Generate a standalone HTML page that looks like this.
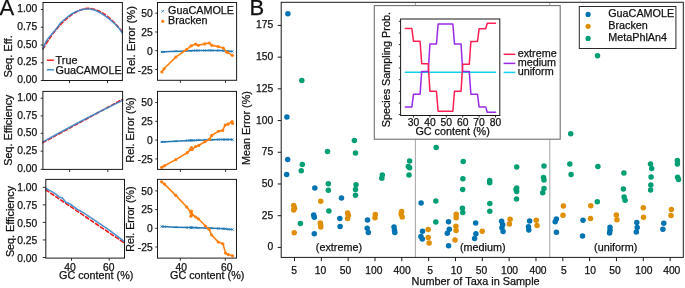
<!DOCTYPE html><html><head><meta charset="utf-8"><style>html,body{margin:0;padding:0;background:#fff;width:685px;height:288px;overflow:hidden}svg{display:block;will-change:transform}text{font-family:"Liberation Sans",sans-serif;stroke:#111;stroke-width:0.25px}</style></head><body>
<svg width="685" height="288" viewBox="0 0 685 288">
<rect width="685" height="288" fill="#fff"/>
<text x="-0.40" y="15.30" font-size="22" text-anchor="start" fill="#111">A</text>
<polyline points="43.00,48.90 44.35,46.65 45.69,44.45 47.04,42.32 48.38,40.26 49.73,38.25 51.07,36.32 52.42,34.45 53.77,32.64 55.11,30.90 56.46,29.23 57.80,27.63 59.15,26.10 60.49,24.64 61.84,23.25 63.19,21.92 64.53,20.67 65.88,19.49 67.22,18.38 68.57,17.28 69.92,16.17 71.26,15.13 72.61,14.16 73.95,13.27 75.30,12.45 76.64,11.70 77.99,11.02 79.34,10.42 80.68,9.89 82.03,9.44 83.37,9.05 84.72,8.74 86.06,8.51 87.41,8.34 88.76,8.33 90.10,8.46 91.45,8.66 92.79,8.93 94.14,9.27 95.48,9.68 96.83,10.17 98.18,10.72 99.52,11.34 100.87,12.03 102.21,12.79 103.56,13.62 104.91,14.51 106.25,15.47 107.60,16.50 108.94,17.59 110.29,18.74 111.63,19.96 112.98,21.24 114.33,22.59 115.67,23.99 117.02,25.45 118.36,26.97 119.71,28.55 121.05,30.19 122.40,31.88" fill="none" stroke="#f01818" stroke-width="1.6" stroke-linejoin="round" stroke-linecap="round" stroke-dasharray="3.6,2.4" stroke-linecap="butt"/>
<polyline points="43.00,48.70 45.70,42.00 48.50,38.00 51.50,34.40 54.50,31.00 57.20,27.70 59.50,24.20 61.00,22.50 64.50,19.50 68.60,16.20 72.50,13.50 76.30,11.50 80.00,10.30 83.00,9.40 86.00,9.00 89.40,9.00 92.50,9.50 95.60,10.60 99.00,12.00 101.90,13.80 105.00,15.80 108.10,18.00 111.50,20.80 114.40,23.40 117.00,26.00 119.10,28.60 122.40,33.00" fill="none" stroke="#3a86c8" stroke-width="1.6" stroke-linejoin="round" stroke-linecap="round" stroke-opacity="0.9"/>
<rect x="43.00" y="2.50" width="79.40" height="78.00" fill="none" stroke="#1a1a1a" stroke-width="1.0"/>
<line x1="40.80" y1="9.50" x2="43.00" y2="9.50" stroke="#1a1a1a" stroke-width="0.9"/>
<text x="37.30" y="12.15" font-size="10.3" text-anchor="end" fill="#111">1.00</text>
<line x1="40.80" y1="27.25" x2="43.00" y2="27.25" stroke="#1a1a1a" stroke-width="0.9"/>
<text x="37.30" y="29.90" font-size="10.3" text-anchor="end" fill="#111">0.75</text>
<line x1="40.80" y1="45.00" x2="43.00" y2="45.00" stroke="#1a1a1a" stroke-width="0.9"/>
<text x="37.30" y="47.65" font-size="10.3" text-anchor="end" fill="#111">0.50</text>
<line x1="40.80" y1="62.75" x2="43.00" y2="62.75" stroke="#1a1a1a" stroke-width="0.9"/>
<text x="37.30" y="65.40" font-size="10.3" text-anchor="end" fill="#111">0.25</text>
<line x1="40.80" y1="80.50" x2="43.00" y2="80.50" stroke="#1a1a1a" stroke-width="0.9"/>
<text x="37.30" y="83.15" font-size="10.3" text-anchor="end" fill="#111">0.00</text>
<line x1="69.50" y1="80.50" x2="69.50" y2="83.10" stroke="#1a1a1a" stroke-width="0.9"/>
<line x1="107.50" y1="80.50" x2="107.50" y2="83.10" stroke="#1a1a1a" stroke-width="0.9"/>
<line x1="46.80" y1="60.20" x2="53.90" y2="60.20" stroke="#f01818" stroke-width="1.4"/>
<line x1="46.80" y1="69.80" x2="53.90" y2="69.80" stroke="#3a86c8" stroke-width="1.4"/>
<text x="55.60" y="63.80" font-size="10.8" text-anchor="start" fill="#111">True</text>
<text x="55.60" y="73.80" font-size="10.8" text-anchor="start" fill="#111">GuaCAMOLE</text>
<text x="11.60" y="56.40" font-size="11.1" text-anchor="middle" fill="#111" transform="rotate(-90 11.60 56.40)">Seq. Eff.</text>
<polyline points="42.90,142.60 122.60,99.30" fill="none" stroke="#f01818" stroke-width="1.6" stroke-linejoin="round" stroke-linecap="round" stroke-dasharray="3.6,2.4" stroke-linecap="butt"/>
<polyline points="42.90,141.90 60.00,132.50 80.00,121.70 100.00,111.50 122.60,100.40" fill="none" stroke="#3a86c8" stroke-width="1.6" stroke-linejoin="round" stroke-linecap="round" stroke-opacity="0.9"/>
<rect x="42.90" y="91.40" width="79.70" height="78.00" fill="none" stroke="#1a1a1a" stroke-width="1.0"/>
<line x1="40.70" y1="98.20" x2="42.90" y2="98.20" stroke="#1a1a1a" stroke-width="0.9"/>
<text x="37.30" y="100.85" font-size="10.3" text-anchor="end" fill="#111">1.00</text>
<line x1="40.70" y1="115.90" x2="42.90" y2="115.90" stroke="#1a1a1a" stroke-width="0.9"/>
<text x="37.30" y="118.55" font-size="10.3" text-anchor="end" fill="#111">0.75</text>
<line x1="40.70" y1="133.30" x2="42.90" y2="133.30" stroke="#1a1a1a" stroke-width="0.9"/>
<text x="37.30" y="135.95" font-size="10.3" text-anchor="end" fill="#111">0.50</text>
<line x1="40.70" y1="151.20" x2="42.90" y2="151.20" stroke="#1a1a1a" stroke-width="0.9"/>
<text x="37.30" y="153.85" font-size="10.3" text-anchor="end" fill="#111">0.25</text>
<line x1="40.70" y1="169.40" x2="42.90" y2="169.40" stroke="#1a1a1a" stroke-width="0.9"/>
<text x="37.30" y="172.05" font-size="10.3" text-anchor="end" fill="#111">0.00</text>
<line x1="69.60" y1="169.40" x2="69.60" y2="172.00" stroke="#1a1a1a" stroke-width="0.9"/>
<line x1="107.80" y1="169.40" x2="107.80" y2="172.00" stroke="#1a1a1a" stroke-width="0.9"/>
<text x="11.80" y="130.15" font-size="10.8" text-anchor="middle" fill="#111" transform="rotate(-90 11.80 130.15)">Seq. Efficiency</text>
<polyline points="45.80,189.90 124.40,243.00" fill="none" stroke="#f01818" stroke-width="1.6" stroke-linejoin="round" stroke-linecap="round" stroke-dasharray="3.6,2.4" stroke-linecap="butt"/>
<polyline points="45.80,188.30 49.50,190.40 53.30,192.40 56.10,194.40 58.90,196.90 62.40,198.00 65.80,202.20 67.90,202.90 70.70,204.50 74.00,206.90 77.00,209.10 82.50,212.20 90.00,217.20 100.00,223.90 110.00,230.70 124.40,241.70" fill="none" stroke="#3a86c8" stroke-width="1.6" stroke-linejoin="round" stroke-linecap="round" stroke-opacity="0.9"/>
<rect x="45.80" y="179.40" width="78.70" height="78.70" fill="none" stroke="#1a1a1a" stroke-width="1.0"/>
<line x1="42.80" y1="187.30" x2="45.80" y2="187.30" stroke="#1a1a1a" stroke-width="0.9"/>
<text x="37.30" y="191.40" font-size="10.3" text-anchor="end" fill="#111">1.00</text>
<line x1="42.80" y1="204.85" x2="45.80" y2="204.85" stroke="#1a1a1a" stroke-width="0.9"/>
<text x="37.30" y="208.95" font-size="10.3" text-anchor="end" fill="#111">0.75</text>
<line x1="42.80" y1="222.40" x2="45.80" y2="222.40" stroke="#1a1a1a" stroke-width="0.9"/>
<text x="37.30" y="226.50" font-size="10.3" text-anchor="end" fill="#111">0.50</text>
<line x1="42.80" y1="239.95" x2="45.80" y2="239.95" stroke="#1a1a1a" stroke-width="0.9"/>
<text x="37.30" y="244.05" font-size="10.3" text-anchor="end" fill="#111">0.25</text>
<line x1="42.80" y1="257.50" x2="45.80" y2="257.50" stroke="#1a1a1a" stroke-width="0.9"/>
<text x="37.30" y="261.60" font-size="10.3" text-anchor="end" fill="#111">0.00</text>
<line x1="71.50" y1="258.10" x2="71.50" y2="260.70" stroke="#1a1a1a" stroke-width="0.9"/>
<text x="70.00" y="270.80" font-size="10.3" text-anchor="middle" fill="#111">40</text>
<line x1="109.20" y1="258.10" x2="109.20" y2="260.70" stroke="#1a1a1a" stroke-width="0.9"/>
<text x="108.80" y="270.80" font-size="10.3" text-anchor="middle" fill="#111">60</text>
<text x="14.40" y="221.50" font-size="10.8" text-anchor="middle" fill="#111" transform="rotate(-90 14.40 221.50)">Seq. Efficiency</text>
<text x="96.20" y="278.80" font-size="10.8" text-anchor="middle" fill="#111">GC content (%)</text>
<polyline points="161.50,51.90 170.00,51.50 180.00,51.20 190.00,50.80 200.00,50.50 210.00,50.40 220.00,50.60 232.30,51.40" fill="none" stroke="#1f77b4" stroke-width="1.5" stroke-linejoin="round" stroke-linecap="round"/>
<path d="M160.80,50.80L163.00,53.00M160.80,53.00L163.00,50.80" stroke="#1f77b4" stroke-width="0.8"/>
<path d="M162.90,50.80L165.10,53.00M162.90,53.00L165.10,50.80" stroke="#1f77b4" stroke-width="0.8"/>
<path d="M174.70,50.10L176.90,52.30M174.70,52.30L176.90,50.10" stroke="#1f77b4" stroke-width="0.8"/>
<path d="M185.50,49.70L187.70,51.90M185.50,51.90L187.70,49.70" stroke="#1f77b4" stroke-width="0.8"/>
<path d="M190.00,49.70L192.20,51.90M190.00,51.90L192.20,49.70" stroke="#1f77b4" stroke-width="0.8"/>
<path d="M194.50,49.40L196.70,51.60M194.50,51.60L196.70,49.40" stroke="#1f77b4" stroke-width="0.8"/>
<path d="M197.20,49.40L199.40,51.60M197.20,51.60L199.40,49.40" stroke="#1f77b4" stroke-width="0.8"/>
<path d="M203.50,49.40L205.70,51.60M203.50,51.60L205.70,49.40" stroke="#1f77b4" stroke-width="0.8"/>
<path d="M208.10,49.30L210.30,51.50M208.10,51.50L210.30,49.30" stroke="#1f77b4" stroke-width="0.8"/>
<path d="M210.80,49.30L213.00,51.50M210.80,51.50L213.00,49.30" stroke="#1f77b4" stroke-width="0.8"/>
<path d="M217.10,49.50L219.30,51.70M217.10,51.70L219.30,49.50" stroke="#1f77b4" stroke-width="0.8"/>
<path d="M222.10,49.50L224.30,51.70M222.10,51.70L224.30,49.50" stroke="#1f77b4" stroke-width="0.8"/>
<path d="M225.70,50.30L227.90,52.50M225.70,52.50L227.90,50.30" stroke="#1f77b4" stroke-width="0.8"/>
<path d="M226.60,50.30L228.80,52.50M226.60,52.50L228.80,50.30" stroke="#1f77b4" stroke-width="0.8"/>
<path d="M231.20,50.30L233.40,52.50M231.20,52.50L233.40,50.30" stroke="#1f77b4" stroke-width="0.8"/>
<polyline points="161.90,71.90 164.00,68.80 175.80,57.10 186.60,49.50 191.10,45.90 195.60,44.10 198.30,45.30 204.60,43.90 209.20,43.00 211.90,45.30 218.20,46.60 223.20,48.00 226.80,52.00 227.70,52.60 232.30,55.30" fill="none" stroke="#ff7f0e" stroke-width="1.6" stroke-linejoin="round" stroke-linecap="round"/>
<circle cx="161.90" cy="71.90" r="1.6" fill="#ff7f0e"/>
<circle cx="164.00" cy="68.80" r="1.6" fill="#ff7f0e"/>
<circle cx="175.80" cy="57.10" r="1.6" fill="#ff7f0e"/>
<circle cx="186.60" cy="49.50" r="1.6" fill="#ff7f0e"/>
<circle cx="191.10" cy="45.90" r="1.6" fill="#ff7f0e"/>
<circle cx="195.60" cy="44.10" r="1.6" fill="#ff7f0e"/>
<circle cx="198.30" cy="45.30" r="1.6" fill="#ff7f0e"/>
<circle cx="204.60" cy="43.90" r="1.6" fill="#ff7f0e"/>
<circle cx="209.20" cy="43.00" r="1.6" fill="#ff7f0e"/>
<circle cx="211.90" cy="45.30" r="1.6" fill="#ff7f0e"/>
<circle cx="218.20" cy="46.60" r="1.6" fill="#ff7f0e"/>
<circle cx="223.20" cy="48.00" r="1.6" fill="#ff7f0e"/>
<circle cx="226.80" cy="52.00" r="1.6" fill="#ff7f0e"/>
<circle cx="227.70" cy="52.60" r="1.6" fill="#ff7f0e"/>
<circle cx="232.30" cy="55.30" r="1.6" fill="#ff7f0e"/>
<rect x="157.50" y="2.50" width="79.10" height="77.80" fill="none" stroke="#1a1a1a" stroke-width="1.0"/>
<line x1="155.30" y1="13.20" x2="157.50" y2="13.20" stroke="#1a1a1a" stroke-width="0.9"/>
<text x="152.70" y="17.20" font-size="10.3" text-anchor="end" fill="#111">50</text>
<line x1="155.30" y1="31.97" x2="157.50" y2="31.97" stroke="#1a1a1a" stroke-width="0.9"/>
<text x="152.70" y="35.97" font-size="10.3" text-anchor="end" fill="#111">25</text>
<line x1="155.30" y1="50.74" x2="157.50" y2="50.74" stroke="#1a1a1a" stroke-width="0.9"/>
<text x="152.70" y="54.74" font-size="10.3" text-anchor="end" fill="#111">0</text>
<line x1="155.30" y1="69.51" x2="157.50" y2="69.51" stroke="#1a1a1a" stroke-width="0.9"/>
<text x="152.70" y="73.51" font-size="10.3" text-anchor="end" fill="#111">-25</text>
<line x1="180.40" y1="80.30" x2="180.40" y2="82.90" stroke="#1a1a1a" stroke-width="0.9"/>
<line x1="225.50" y1="80.30" x2="225.50" y2="82.90" stroke="#1a1a1a" stroke-width="0.9"/>
<text x="134.60" y="40.10" font-size="11.15" text-anchor="middle" fill="#111" transform="rotate(-90 134.60 40.10)">Rel. Error (%)</text>
<path d="M161.50,10.10L163.90,12.50M161.50,12.50L163.90,10.10" stroke="#1f77b4" stroke-width="0.8"/>
<circle cx="162.70" cy="21.30" r="1.6" fill="#ff7f0e"/>
<text x="168.00" y="14.00" font-size="10.8" text-anchor="start" fill="#111">GuaCAMOLE</text>
<text x="168.00" y="24.00" font-size="10.8" text-anchor="start" fill="#111">Bracken</text>
<polyline points="161.50,141.90 175.00,141.20 190.00,140.40 205.00,139.90 220.00,139.60 232.00,139.60" fill="none" stroke="#1f77b4" stroke-width="1.5" stroke-linejoin="round" stroke-linecap="round"/>
<path d="M160.60,140.80L162.80,143.00M160.60,143.00L162.80,140.80" stroke="#1f77b4" stroke-width="0.8"/>
<path d="M163.30,140.80L165.50,143.00M163.30,143.00L165.50,140.80" stroke="#1f77b4" stroke-width="0.8"/>
<path d="M174.70,140.10L176.90,142.30M174.70,142.30L176.90,140.10" stroke="#1f77b4" stroke-width="0.8"/>
<path d="M186.20,139.30L188.40,141.50M186.20,141.50L188.40,139.30" stroke="#1f77b4" stroke-width="0.8"/>
<path d="M189.30,139.30L191.50,141.50M189.30,141.50L191.50,139.30" stroke="#1f77b4" stroke-width="0.8"/>
<path d="M190.40,139.30L192.60,141.50M190.40,141.50L192.60,139.30" stroke="#1f77b4" stroke-width="0.8"/>
<path d="M191.00,139.30L193.20,141.50M191.00,141.50L193.20,139.30" stroke="#1f77b4" stroke-width="0.8"/>
<path d="M194.50,139.30L196.70,141.50M194.50,141.50L196.70,139.30" stroke="#1f77b4" stroke-width="0.8"/>
<path d="M197.65,138.80L199.85,141.00M197.65,141.00L199.85,138.80" stroke="#1f77b4" stroke-width="0.8"/>
<path d="M203.90,138.80L206.10,141.00M203.90,141.00L206.10,138.80" stroke="#1f77b4" stroke-width="0.8"/>
<path d="M208.50,138.80L210.70,141.00M208.50,141.00L210.70,138.80" stroke="#1f77b4" stroke-width="0.8"/>
<path d="M210.60,138.80L212.80,141.00M210.60,141.00L212.80,138.80" stroke="#1f77b4" stroke-width="0.8"/>
<path d="M217.40,138.50L219.60,140.70M217.40,140.70L219.60,138.50" stroke="#1f77b4" stroke-width="0.8"/>
<path d="M221.60,138.50L223.80,140.70M221.60,140.70L223.80,138.50" stroke="#1f77b4" stroke-width="0.8"/>
<path d="M224.10,138.50L226.30,140.70M224.10,140.70L226.30,138.50" stroke="#1f77b4" stroke-width="0.8"/>
<path d="M226.80,138.50L229.00,140.70M226.80,140.70L229.00,138.50" stroke="#1f77b4" stroke-width="0.8"/>
<path d="M231.00,138.50L233.20,140.70M231.00,140.70L233.20,138.50" stroke="#1f77b4" stroke-width="0.8"/>
<path d="M231.40,138.50L233.60,140.70M231.40,140.70L233.60,138.50" stroke="#1f77b4" stroke-width="0.8"/>
<polyline points="161.70,167.30 164.40,165.80 175.80,159.60 187.30,152.70 190.40,149.60 191.50,147.50 192.10,149.60 195.60,146.50 198.75,145.40 205.00,141.70 209.60,139.20 211.70,135.40 218.50,131.25 222.70,130.40 225.20,125.00 227.90,124.20 232.10,121.50 232.50,123.50" fill="none" stroke="#ff7f0e" stroke-width="1.6" stroke-linejoin="round" stroke-linecap="round"/>
<circle cx="161.70" cy="167.30" r="1.6" fill="#ff7f0e"/>
<circle cx="164.40" cy="165.80" r="1.6" fill="#ff7f0e"/>
<circle cx="175.80" cy="159.60" r="1.6" fill="#ff7f0e"/>
<circle cx="187.30" cy="152.70" r="1.6" fill="#ff7f0e"/>
<circle cx="190.40" cy="149.60" r="1.6" fill="#ff7f0e"/>
<circle cx="191.50" cy="147.50" r="1.6" fill="#ff7f0e"/>
<circle cx="192.10" cy="149.60" r="1.6" fill="#ff7f0e"/>
<circle cx="195.60" cy="146.50" r="1.6" fill="#ff7f0e"/>
<circle cx="198.75" cy="145.40" r="1.6" fill="#ff7f0e"/>
<circle cx="205.00" cy="141.70" r="1.6" fill="#ff7f0e"/>
<circle cx="209.60" cy="139.20" r="1.6" fill="#ff7f0e"/>
<circle cx="211.70" cy="135.40" r="1.6" fill="#ff7f0e"/>
<circle cx="218.50" cy="131.25" r="1.6" fill="#ff7f0e"/>
<circle cx="222.70" cy="130.40" r="1.6" fill="#ff7f0e"/>
<circle cx="225.20" cy="125.00" r="1.6" fill="#ff7f0e"/>
<circle cx="227.90" cy="124.20" r="1.6" fill="#ff7f0e"/>
<circle cx="232.10" cy="121.50" r="1.6" fill="#ff7f0e"/>
<circle cx="232.50" cy="123.50" r="1.6" fill="#ff7f0e"/>
<rect x="157.50" y="91.40" width="79.00" height="78.00" fill="none" stroke="#1a1a1a" stroke-width="1.0"/>
<line x1="155.30" y1="102.50" x2="157.50" y2="102.50" stroke="#1a1a1a" stroke-width="0.9"/>
<text x="152.70" y="106.30" font-size="10.3" text-anchor="end" fill="#111">50</text>
<line x1="155.30" y1="121.30" x2="157.50" y2="121.30" stroke="#1a1a1a" stroke-width="0.9"/>
<text x="152.70" y="125.10" font-size="10.3" text-anchor="end" fill="#111">25</text>
<line x1="155.30" y1="140.10" x2="157.50" y2="140.10" stroke="#1a1a1a" stroke-width="0.9"/>
<text x="152.70" y="143.90" font-size="10.3" text-anchor="end" fill="#111">0</text>
<line x1="155.30" y1="158.90" x2="157.50" y2="158.90" stroke="#1a1a1a" stroke-width="0.9"/>
<text x="152.70" y="162.70" font-size="10.3" text-anchor="end" fill="#111">-25</text>
<line x1="180.40" y1="169.40" x2="180.40" y2="172.00" stroke="#1a1a1a" stroke-width="0.9"/>
<line x1="225.60" y1="169.40" x2="225.60" y2="172.00" stroke="#1a1a1a" stroke-width="0.9"/>
<text x="134.00" y="129.90" font-size="10.66" text-anchor="middle" fill="#111" transform="rotate(-90 134.00 129.90)">Rel. Error (%)</text>
<polyline points="161.60,226.60 175.00,227.20 190.00,227.60 205.00,228.00 220.00,228.60 232.50,229.50" fill="none" stroke="#1f77b4" stroke-width="1.5" stroke-linejoin="round" stroke-linecap="round"/>
<path d="M160.50,225.50L162.70,227.70M160.50,227.70L162.70,225.50" stroke="#1f77b4" stroke-width="0.8"/>
<path d="M163.40,225.50L165.60,227.70M163.40,227.70L165.60,225.50" stroke="#1f77b4" stroke-width="0.8"/>
<path d="M174.70,226.10L176.90,228.30M174.70,228.30L176.90,226.10" stroke="#1f77b4" stroke-width="0.8"/>
<path d="M185.70,226.50L187.90,228.70M185.70,228.70L187.90,226.50" stroke="#1f77b4" stroke-width="0.8"/>
<path d="M189.80,226.50L192.00,228.70M189.80,228.70L192.00,226.50" stroke="#1f77b4" stroke-width="0.8"/>
<path d="M190.40,226.50L192.60,228.70M190.40,228.70L192.60,226.50" stroke="#1f77b4" stroke-width="0.8"/>
<path d="M189.80,226.50L192.00,228.70M189.80,228.70L192.00,226.50" stroke="#1f77b4" stroke-width="0.8"/>
<path d="M191.20,226.50L193.40,228.70M191.20,228.70L193.40,226.50" stroke="#1f77b4" stroke-width="0.8"/>
<path d="M194.70,226.50L196.90,228.70M194.70,228.70L196.90,226.50" stroke="#1f77b4" stroke-width="0.8"/>
<path d="M197.30,226.90L199.50,229.10M197.30,229.10L199.50,226.90" stroke="#1f77b4" stroke-width="0.8"/>
<path d="M204.30,226.90L206.50,229.10M204.30,229.10L206.50,226.90" stroke="#1f77b4" stroke-width="0.8"/>
<path d="M207.90,226.90L210.10,229.10M207.90,229.10L210.10,226.90" stroke="#1f77b4" stroke-width="0.8"/>
<path d="M210.60,226.90L212.80,229.10M210.60,229.10L212.80,226.90" stroke="#1f77b4" stroke-width="0.8"/>
<path d="M217.20,227.50L219.40,229.70M217.20,229.70L219.40,227.50" stroke="#1f77b4" stroke-width="0.8"/>
<path d="M221.80,227.50L224.00,229.70M221.80,229.70L224.00,227.50" stroke="#1f77b4" stroke-width="0.8"/>
<path d="M224.50,227.50L226.70,229.70M224.50,229.70L226.70,227.50" stroke="#1f77b4" stroke-width="0.8"/>
<path d="M227.20,228.40L229.40,230.60M227.20,230.60L229.40,228.40" stroke="#1f77b4" stroke-width="0.8"/>
<path d="M231.40,228.40L233.60,230.60M231.40,230.60L233.60,228.40" stroke="#1f77b4" stroke-width="0.8"/>
<polyline points="161.60,181.80 164.50,184.10 175.80,195.40 186.80,207.00 190.90,212.40 191.50,211.00 190.90,216.20 192.30,214.50 195.80,217.00 198.40,218.80 205.40,226.00 209.00,229.20 211.70,235.00 218.30,242.10 222.90,243.75 225.60,253.10 228.30,254.60 232.50,255.80" fill="none" stroke="#ff7f0e" stroke-width="1.6" stroke-linejoin="round" stroke-linecap="round"/>
<circle cx="161.60" cy="181.80" r="1.6" fill="#ff7f0e"/>
<circle cx="164.50" cy="184.10" r="1.6" fill="#ff7f0e"/>
<circle cx="175.80" cy="195.40" r="1.6" fill="#ff7f0e"/>
<circle cx="186.80" cy="207.00" r="1.6" fill="#ff7f0e"/>
<circle cx="190.90" cy="212.40" r="1.6" fill="#ff7f0e"/>
<circle cx="191.50" cy="211.00" r="1.6" fill="#ff7f0e"/>
<circle cx="190.90" cy="216.20" r="1.6" fill="#ff7f0e"/>
<circle cx="192.30" cy="214.50" r="1.6" fill="#ff7f0e"/>
<circle cx="195.80" cy="217.00" r="1.6" fill="#ff7f0e"/>
<circle cx="198.40" cy="218.80" r="1.6" fill="#ff7f0e"/>
<circle cx="205.40" cy="226.00" r="1.6" fill="#ff7f0e"/>
<circle cx="209.00" cy="229.20" r="1.6" fill="#ff7f0e"/>
<circle cx="211.70" cy="235.00" r="1.6" fill="#ff7f0e"/>
<circle cx="218.30" cy="242.10" r="1.6" fill="#ff7f0e"/>
<circle cx="222.90" cy="243.75" r="1.6" fill="#ff7f0e"/>
<circle cx="225.60" cy="253.10" r="1.6" fill="#ff7f0e"/>
<circle cx="228.30" cy="254.60" r="1.6" fill="#ff7f0e"/>
<circle cx="232.50" cy="255.80" r="1.6" fill="#ff7f0e"/>
<rect x="157.50" y="179.40" width="79.00" height="78.70" fill="none" stroke="#1a1a1a" stroke-width="1.0"/>
<line x1="155.30" y1="190.90" x2="157.50" y2="190.90" stroke="#1a1a1a" stroke-width="0.9"/>
<text x="152.70" y="194.70" font-size="10.3" text-anchor="end" fill="#111">50</text>
<line x1="155.30" y1="209.60" x2="157.50" y2="209.60" stroke="#1a1a1a" stroke-width="0.9"/>
<text x="152.70" y="213.40" font-size="10.3" text-anchor="end" fill="#111">25</text>
<line x1="155.30" y1="228.30" x2="157.50" y2="228.30" stroke="#1a1a1a" stroke-width="0.9"/>
<text x="152.70" y="232.10" font-size="10.3" text-anchor="end" fill="#111">0</text>
<line x1="155.30" y1="247.00" x2="157.50" y2="247.00" stroke="#1a1a1a" stroke-width="0.9"/>
<text x="152.70" y="250.80" font-size="10.3" text-anchor="end" fill="#111">-25</text>
<line x1="180.30" y1="258.10" x2="180.30" y2="260.70" stroke="#1a1a1a" stroke-width="0.9"/>
<text x="181.20" y="270.80" font-size="10.3" text-anchor="middle" fill="#111">40</text>
<line x1="225.30" y1="258.10" x2="225.30" y2="260.70" stroke="#1a1a1a" stroke-width="0.9"/>
<text x="226.70" y="270.80" font-size="10.3" text-anchor="middle" fill="#111">60</text>
<text x="134.40" y="219.10" font-size="10.66" text-anchor="middle" fill="#111" transform="rotate(-90 134.40 219.10)">Rel. Error (%)</text>
<text x="207.20" y="278.60" font-size="10.8" text-anchor="middle" fill="#111">GC content (%)</text>
<text x="249.60" y="15.30" font-size="22" text-anchor="start" fill="#111">B</text>
<line x1="415.40" y1="2.30" x2="415.40" y2="257.40" stroke="#9a9a9a" stroke-width="0.9"/>
<line x1="549.80" y1="2.30" x2="549.80" y2="257.40" stroke="#9a9a9a" stroke-width="0.9"/>
<circle cx="287.90" cy="13.80" r="2.75" fill="#0173B2"/>
<circle cx="286.90" cy="117.10" r="2.75" fill="#0173B2"/>
<circle cx="287.70" cy="159.40" r="2.75" fill="#0173B2"/>
<circle cx="286.70" cy="174.40" r="2.75" fill="#0173B2"/>
<circle cx="314.80" cy="187.90" r="2.75" fill="#0173B2"/>
<circle cx="313.70" cy="215.00" r="2.75" fill="#0173B2"/>
<circle cx="314.30" cy="217.20" r="2.75" fill="#0173B2"/>
<circle cx="314.30" cy="233.75" r="2.75" fill="#0173B2"/>
<circle cx="341.50" cy="197.90" r="2.75" fill="#0173B2"/>
<circle cx="339.80" cy="218.40" r="2.75" fill="#0173B2"/>
<circle cx="340.10" cy="226.60" r="2.75" fill="#0173B2"/>
<circle cx="367.50" cy="220.00" r="2.75" fill="#0173B2"/>
<circle cx="367.20" cy="228.30" r="2.75" fill="#0173B2"/>
<circle cx="368.30" cy="232.50" r="2.75" fill="#0173B2"/>
<circle cx="394.00" cy="227.00" r="2.75" fill="#0173B2"/>
<circle cx="394.50" cy="230.20" r="2.75" fill="#0173B2"/>
<circle cx="394.80" cy="232.50" r="2.75" fill="#0173B2"/>
<circle cx="421.10" cy="203.00" r="2.75" fill="#0173B2"/>
<circle cx="422.50" cy="231.20" r="2.75" fill="#0173B2"/>
<circle cx="420.90" cy="236.50" r="2.75" fill="#0173B2"/>
<circle cx="422.30" cy="239.10" r="2.75" fill="#0173B2"/>
<circle cx="448.50" cy="221.80" r="2.75" fill="#0173B2"/>
<circle cx="449.30" cy="229.20" r="2.75" fill="#0173B2"/>
<circle cx="447.30" cy="233.20" r="2.75" fill="#0173B2"/>
<circle cx="448.60" cy="245.70" r="2.75" fill="#0173B2"/>
<circle cx="475.60" cy="222.90" r="2.75" fill="#0173B2"/>
<circle cx="475.90" cy="233.80" r="2.75" fill="#0173B2"/>
<circle cx="474.60" cy="238.50" r="2.75" fill="#0173B2"/>
<circle cx="501.60" cy="221.30" r="2.75" fill="#0173B2"/>
<circle cx="502.70" cy="224.70" r="2.75" fill="#0173B2"/>
<circle cx="501.90" cy="227.70" r="2.75" fill="#0173B2"/>
<circle cx="503.10" cy="231.40" r="2.75" fill="#0173B2"/>
<circle cx="529.60" cy="221.00" r="2.75" fill="#0173B2"/>
<circle cx="528.50" cy="226.70" r="2.75" fill="#0173B2"/>
<circle cx="528.80" cy="230.00" r="2.75" fill="#0173B2"/>
<circle cx="556.40" cy="218.90" r="2.75" fill="#0173B2"/>
<circle cx="555.20" cy="221.80" r="2.75" fill="#0173B2"/>
<circle cx="556.40" cy="232.30" r="2.75" fill="#0173B2"/>
<circle cx="583.00" cy="220.30" r="2.75" fill="#0173B2"/>
<circle cx="582.50" cy="235.90" r="2.75" fill="#0173B2"/>
<circle cx="610.00" cy="227.20" r="2.75" fill="#0173B2"/>
<circle cx="610.00" cy="230.20" r="2.75" fill="#0173B2"/>
<circle cx="609.60" cy="233.10" r="2.75" fill="#0173B2"/>
<circle cx="636.80" cy="222.40" r="2.75" fill="#0173B2"/>
<circle cx="637.20" cy="227.60" r="2.75" fill="#0173B2"/>
<circle cx="636.30" cy="231.90" r="2.75" fill="#0173B2"/>
<circle cx="663.80" cy="223.20" r="2.75" fill="#0173B2"/>
<circle cx="662.90" cy="229.30" r="2.75" fill="#0173B2"/>
<circle cx="293.70" cy="205.60" r="2.75" fill="#DE8F05"/>
<circle cx="294.50" cy="208.30" r="2.75" fill="#DE8F05"/>
<circle cx="293.70" cy="210.00" r="2.75" fill="#DE8F05"/>
<circle cx="294.20" cy="232.80" r="2.75" fill="#DE8F05"/>
<circle cx="320.75" cy="201.25" r="2.75" fill="#DE8F05"/>
<circle cx="320.30" cy="223.10" r="2.75" fill="#DE8F05"/>
<circle cx="320.60" cy="225.00" r="2.75" fill="#DE8F05"/>
<circle cx="320.75" cy="227.00" r="2.75" fill="#DE8F05"/>
<circle cx="347.60" cy="213.00" r="2.75" fill="#DE8F05"/>
<circle cx="348.40" cy="215.30" r="2.75" fill="#DE8F05"/>
<circle cx="347.60" cy="218.40" r="2.75" fill="#DE8F05"/>
<circle cx="375.30" cy="214.50" r="2.75" fill="#DE8F05"/>
<circle cx="375.00" cy="217.70" r="2.75" fill="#DE8F05"/>
<circle cx="401.60" cy="211.40" r="2.75" fill="#DE8F05"/>
<circle cx="401.10" cy="214.10" r="2.75" fill="#DE8F05"/>
<circle cx="402.20" cy="216.90" r="2.75" fill="#DE8F05"/>
<circle cx="428.20" cy="229.50" r="2.75" fill="#DE8F05"/>
<circle cx="428.20" cy="237.40" r="2.75" fill="#DE8F05"/>
<circle cx="429.10" cy="243.10" r="2.75" fill="#DE8F05"/>
<circle cx="456.20" cy="214.30" r="2.75" fill="#DE8F05"/>
<circle cx="456.20" cy="217.80" r="2.75" fill="#DE8F05"/>
<circle cx="455.90" cy="226.30" r="2.75" fill="#DE8F05"/>
<circle cx="456.10" cy="230.50" r="2.75" fill="#DE8F05"/>
<circle cx="455.00" cy="240.00" r="2.75" fill="#DE8F05"/>
<circle cx="482.20" cy="231.20" r="2.75" fill="#DE8F05"/>
<circle cx="510.10" cy="219.20" r="2.75" fill="#DE8F05"/>
<circle cx="509.40" cy="224.00" r="2.75" fill="#DE8F05"/>
<circle cx="536.30" cy="220.20" r="2.75" fill="#DE8F05"/>
<circle cx="537.00" cy="225.50" r="2.75" fill="#DE8F05"/>
<circle cx="563.40" cy="206.00" r="2.75" fill="#DE8F05"/>
<circle cx="563.00" cy="215.30" r="2.75" fill="#DE8F05"/>
<circle cx="590.80" cy="205.80" r="2.75" fill="#DE8F05"/>
<circle cx="590.50" cy="218.50" r="2.75" fill="#DE8F05"/>
<circle cx="616.30" cy="215.10" r="2.75" fill="#DE8F05"/>
<circle cx="616.90" cy="219.80" r="2.75" fill="#DE8F05"/>
<circle cx="643.30" cy="207.70" r="2.75" fill="#DE8F05"/>
<circle cx="643.50" cy="217.20" r="2.75" fill="#DE8F05"/>
<circle cx="671.40" cy="209.40" r="2.75" fill="#DE8F05"/>
<circle cx="671.00" cy="215.50" r="2.75" fill="#DE8F05"/>
<circle cx="301.80" cy="80.60" r="2.75" fill="#029E73"/>
<circle cx="302.30" cy="164.60" r="2.75" fill="#029E73"/>
<circle cx="301.25" cy="170.80" r="2.75" fill="#029E73"/>
<circle cx="300.40" cy="223.40" r="2.75" fill="#029E73"/>
<circle cx="327.50" cy="151.50" r="2.75" fill="#029E73"/>
<circle cx="328.30" cy="183.75" r="2.75" fill="#029E73"/>
<circle cx="328.30" cy="190.20" r="2.75" fill="#029E73"/>
<circle cx="328.90" cy="211.10" r="2.75" fill="#029E73"/>
<circle cx="354.40" cy="140.50" r="2.75" fill="#029E73"/>
<circle cx="355.50" cy="152.90" r="2.75" fill="#029E73"/>
<circle cx="356.00" cy="184.70" r="2.75" fill="#029E73"/>
<circle cx="355.50" cy="189.60" r="2.75" fill="#029E73"/>
<circle cx="355.50" cy="195.20" r="2.75" fill="#029E73"/>
<circle cx="382.30" cy="175.00" r="2.75" fill="#029E73"/>
<circle cx="381.80" cy="178.20" r="2.75" fill="#029E73"/>
<circle cx="409.60" cy="161.10" r="2.75" fill="#029E73"/>
<circle cx="408.30" cy="166.50" r="2.75" fill="#029E73"/>
<circle cx="409.60" cy="167.70" r="2.75" fill="#029E73"/>
<circle cx="409.00" cy="175.00" r="2.75" fill="#029E73"/>
<circle cx="436.20" cy="147.50" r="2.75" fill="#029E73"/>
<circle cx="435.80" cy="200.90" r="2.75" fill="#029E73"/>
<circle cx="435.80" cy="222.00" r="2.75" fill="#029E73"/>
<circle cx="463.20" cy="161.60" r="2.75" fill="#029E73"/>
<circle cx="462.90" cy="178.70" r="2.75" fill="#029E73"/>
<circle cx="462.70" cy="189.60" r="2.75" fill="#029E73"/>
<circle cx="462.40" cy="208.20" r="2.75" fill="#029E73"/>
<circle cx="462.80" cy="212.60" r="2.75" fill="#029E73"/>
<circle cx="489.70" cy="180.40" r="2.75" fill="#029E73"/>
<circle cx="489.70" cy="182.80" r="2.75" fill="#029E73"/>
<circle cx="489.80" cy="203.50" r="2.75" fill="#029E73"/>
<circle cx="489.80" cy="211.20" r="2.75" fill="#029E73"/>
<circle cx="516.70" cy="167.00" r="2.75" fill="#029E73"/>
<circle cx="516.70" cy="187.90" r="2.75" fill="#029E73"/>
<circle cx="516.00" cy="189.60" r="2.75" fill="#029E73"/>
<circle cx="516.70" cy="191.60" r="2.75" fill="#029E73"/>
<circle cx="516.50" cy="199.00" r="2.75" fill="#029E73"/>
<circle cx="544.00" cy="166.00" r="2.75" fill="#029E73"/>
<circle cx="543.50" cy="177.40" r="2.75" fill="#029E73"/>
<circle cx="544.00" cy="179.90" r="2.75" fill="#029E73"/>
<circle cx="544.00" cy="188.40" r="2.75" fill="#029E73"/>
<circle cx="542.70" cy="192.80" r="2.75" fill="#029E73"/>
<circle cx="570.70" cy="133.80" r="2.75" fill="#029E73"/>
<circle cx="569.80" cy="164.00" r="2.75" fill="#029E73"/>
<circle cx="571.10" cy="174.40" r="2.75" fill="#029E73"/>
<circle cx="597.50" cy="55.80" r="2.75" fill="#029E73"/>
<circle cx="597.90" cy="166.40" r="2.75" fill="#029E73"/>
<circle cx="597.30" cy="201.80" r="2.75" fill="#029E73"/>
<circle cx="623.90" cy="172.90" r="2.75" fill="#029E73"/>
<circle cx="623.40" cy="189.10" r="2.75" fill="#029E73"/>
<circle cx="624.10" cy="196.90" r="2.75" fill="#029E73"/>
<circle cx="625.10" cy="200.30" r="2.75" fill="#029E73"/>
<circle cx="650.50" cy="164.00" r="2.75" fill="#029E73"/>
<circle cx="651.70" cy="168.40" r="2.75" fill="#029E73"/>
<circle cx="651.10" cy="177.00" r="2.75" fill="#029E73"/>
<circle cx="650.80" cy="184.90" r="2.75" fill="#029E73"/>
<circle cx="650.60" cy="190.10" r="2.75" fill="#029E73"/>
<circle cx="677.40" cy="160.40" r="2.75" fill="#029E73"/>
<circle cx="677.40" cy="164.10" r="2.75" fill="#029E73"/>
<circle cx="677.60" cy="177.30" r="2.75" fill="#029E73"/>
<circle cx="678.50" cy="179.50" r="2.75" fill="#029E73"/>
<rect x="281.20" y="2.30" width="402.10" height="255.10" fill="none" stroke="#1a1a1a" stroke-width="1.0"/>
<line x1="277.70" y1="247.40" x2="281.20" y2="247.40" stroke="#1a1a1a" stroke-width="1.0"/>
<text x="273.20" y="250.40" font-size="10.3" text-anchor="end" fill="#111">0</text>
<line x1="277.70" y1="215.69" x2="281.20" y2="215.69" stroke="#1a1a1a" stroke-width="1.0"/>
<text x="273.20" y="218.69" font-size="10.3" text-anchor="end" fill="#111">25</text>
<line x1="277.70" y1="183.98" x2="281.20" y2="183.98" stroke="#1a1a1a" stroke-width="1.0"/>
<text x="273.20" y="186.98" font-size="10.3" text-anchor="end" fill="#111">50</text>
<line x1="277.70" y1="152.27" x2="281.20" y2="152.27" stroke="#1a1a1a" stroke-width="1.0"/>
<text x="273.20" y="155.27" font-size="10.3" text-anchor="end" fill="#111">75</text>
<line x1="277.70" y1="120.56" x2="281.20" y2="120.56" stroke="#1a1a1a" stroke-width="1.0"/>
<text x="273.20" y="123.56" font-size="10.3" text-anchor="end" fill="#111">100</text>
<line x1="277.70" y1="88.85" x2="281.20" y2="88.85" stroke="#1a1a1a" stroke-width="1.0"/>
<text x="273.20" y="91.85" font-size="10.3" text-anchor="end" fill="#111">125</text>
<line x1="277.70" y1="57.14" x2="281.20" y2="57.14" stroke="#1a1a1a" stroke-width="1.0"/>
<text x="273.20" y="60.14" font-size="10.3" text-anchor="end" fill="#111">150</text>
<line x1="277.70" y1="25.43" x2="281.20" y2="25.43" stroke="#1a1a1a" stroke-width="1.0"/>
<text x="273.20" y="28.43" font-size="10.3" text-anchor="end" fill="#111">175</text>
<line x1="294.50" y1="257.40" x2="294.50" y2="261.20" stroke="#1a1a1a" stroke-width="1.0"/>
<text x="294.10" y="273.60" font-size="10.3" text-anchor="middle" fill="#111">5</text>
<line x1="321.33" y1="257.40" x2="321.33" y2="261.20" stroke="#1a1a1a" stroke-width="1.0"/>
<text x="320.60" y="273.60" font-size="10.3" text-anchor="middle" fill="#111">10</text>
<line x1="348.16" y1="257.40" x2="348.16" y2="261.20" stroke="#1a1a1a" stroke-width="1.0"/>
<text x="345.50" y="273.60" font-size="10.3" text-anchor="middle" fill="#111">50</text>
<line x1="374.99" y1="257.40" x2="374.99" y2="261.20" stroke="#1a1a1a" stroke-width="1.0"/>
<text x="373.85" y="273.60" font-size="10.3" text-anchor="middle" fill="#111">100</text>
<line x1="401.82" y1="257.40" x2="401.82" y2="261.20" stroke="#1a1a1a" stroke-width="1.0"/>
<text x="402.20" y="273.60" font-size="10.3" text-anchor="middle" fill="#111">400</text>
<line x1="428.65" y1="257.40" x2="428.65" y2="261.20" stroke="#1a1a1a" stroke-width="1.0"/>
<text x="430.00" y="273.60" font-size="10.3" text-anchor="middle" fill="#111">5</text>
<line x1="455.48" y1="257.40" x2="455.48" y2="261.20" stroke="#1a1a1a" stroke-width="1.0"/>
<text x="456.50" y="273.60" font-size="10.3" text-anchor="middle" fill="#111">10</text>
<line x1="482.31" y1="257.40" x2="482.31" y2="261.20" stroke="#1a1a1a" stroke-width="1.0"/>
<text x="481.60" y="273.60" font-size="10.3" text-anchor="middle" fill="#111">50</text>
<line x1="509.14" y1="257.40" x2="509.14" y2="261.20" stroke="#1a1a1a" stroke-width="1.0"/>
<text x="509.50" y="273.60" font-size="10.3" text-anchor="middle" fill="#111">100</text>
<line x1="535.97" y1="257.40" x2="535.97" y2="261.20" stroke="#1a1a1a" stroke-width="1.0"/>
<text x="538.00" y="273.60" font-size="10.3" text-anchor="middle" fill="#111">400</text>
<line x1="562.80" y1="257.40" x2="562.80" y2="261.20" stroke="#1a1a1a" stroke-width="1.0"/>
<text x="563.75" y="273.60" font-size="10.3" text-anchor="middle" fill="#111">5</text>
<line x1="589.63" y1="257.40" x2="589.63" y2="261.20" stroke="#1a1a1a" stroke-width="1.0"/>
<text x="590.25" y="273.60" font-size="10.3" text-anchor="middle" fill="#111">10</text>
<line x1="616.46" y1="257.40" x2="616.46" y2="261.20" stroke="#1a1a1a" stroke-width="1.0"/>
<text x="615.10" y="273.60" font-size="10.3" text-anchor="middle" fill="#111">50</text>
<line x1="643.29" y1="257.40" x2="643.29" y2="261.20" stroke="#1a1a1a" stroke-width="1.0"/>
<text x="643.80" y="273.60" font-size="10.3" text-anchor="middle" fill="#111">100</text>
<line x1="670.12" y1="257.40" x2="670.12" y2="261.20" stroke="#1a1a1a" stroke-width="1.0"/>
<text x="671.75" y="273.60" font-size="10.3" text-anchor="middle" fill="#111">400</text>
<text x="338.90" y="251.00" font-size="10.8" text-anchor="middle" fill="#111">(extreme)</text>
<text x="482.80" y="251.00" font-size="10.8" text-anchor="middle" fill="#111">(medium)</text>
<text x="615.70" y="251.00" font-size="10.8" text-anchor="middle" fill="#111">(uniform)</text>
<text x="475.60" y="285.30" font-size="10.9" text-anchor="middle" fill="#111">Number of Taxa in Sample</text>
<text x="249.70" y="128.00" font-size="10.8" text-anchor="middle" fill="#111" transform="rotate(-90 249.70 128.00)">Mean Error (%)</text>
<rect x="579.3" y="6.5" width="96.6" height="42.0" fill="#fff" stroke="#2a2a2a" stroke-width="1"/>
<circle cx="588.10" cy="14.40" r="2.6" fill="#0173B2"/>
<circle cx="588.10" cy="26.30" r="2.6" fill="#DE8F05"/>
<circle cx="588.10" cy="38.40" r="2.6" fill="#029E73"/>
<text x="608.20" y="17.00" font-size="10.8" text-anchor="start" fill="#111">GuaCAMOLE</text>
<text x="608.20" y="28.90" font-size="10.8" text-anchor="start" fill="#111">Bracken</text>
<text x="608.20" y="40.80" font-size="10.8" text-anchor="start" fill="#111">MetaPhlAn4</text>
<rect x="374.3" y="5.6" width="185.9" height="133.6" fill="#fff" stroke="#707070" stroke-width="1.1"/>
<polyline points="405.30,72.30 495.50,72.30" fill="none" stroke="#12d0ee" stroke-width="1.5" stroke-linejoin="round" stroke-linecap="round"/>
<polyline points="405.30,106.90 411.86,106.90 413.50,94.20 420.06,94.20 421.70,71.50 428.26,71.50 429.90,44.00 436.46,44.00 438.10,24.00 444.66,24.00 446.30,24.00 452.86,24.00 454.50,44.00 461.06,44.00 462.70,71.50 469.26,71.50 470.90,94.20 477.46,94.20 479.10,106.90 485.66,106.90 487.30,112.20 495.50,112.20" fill="none" stroke="#9a2ae6" stroke-width="1.5" stroke-linejoin="round" stroke-linecap="round"/>
<polyline points="405.30,28.60 411.86,28.60 413.50,41.20 420.06,41.20 421.70,63.80 428.26,63.80 429.90,91.20 436.46,91.20 438.10,111.30 444.66,111.30 446.30,111.30 452.86,111.30 454.50,91.20 461.06,91.20 462.70,64.30 469.26,64.30 470.90,41.40 477.46,41.40 479.10,28.80 485.66,28.80 487.30,23.20 495.50,23.20" fill="none" stroke="#ff1f55" stroke-width="1.5" stroke-linejoin="round" stroke-linecap="round"/>
<rect x="400.60" y="19.00" width="99.20" height="96.50" fill="none" stroke="#1a1a1a" stroke-width="1.0"/>
<line x1="398.80" y1="21.30" x2="400.60" y2="21.30" stroke="#1a1a1a" stroke-width="0.9"/>
<line x1="398.80" y1="33.00" x2="400.60" y2="33.00" stroke="#1a1a1a" stroke-width="0.9"/>
<line x1="398.80" y1="44.60" x2="400.60" y2="44.60" stroke="#1a1a1a" stroke-width="0.9"/>
<line x1="398.80" y1="56.30" x2="400.60" y2="56.30" stroke="#1a1a1a" stroke-width="0.9"/>
<line x1="398.80" y1="68.00" x2="400.60" y2="68.00" stroke="#1a1a1a" stroke-width="0.9"/>
<line x1="398.80" y1="79.70" x2="400.60" y2="79.70" stroke="#1a1a1a" stroke-width="0.9"/>
<line x1="398.80" y1="91.40" x2="400.60" y2="91.40" stroke="#1a1a1a" stroke-width="0.9"/>
<line x1="398.80" y1="103.00" x2="400.60" y2="103.00" stroke="#1a1a1a" stroke-width="0.9"/>
<line x1="398.80" y1="114.60" x2="400.60" y2="114.60" stroke="#1a1a1a" stroke-width="0.9"/>
<line x1="413.50" y1="115.50" x2="413.50" y2="117.50" stroke="#1a1a1a" stroke-width="0.9"/>
<text x="413.50" y="125.80" font-size="10.3" text-anchor="middle" fill="#111">30</text>
<line x1="429.90" y1="115.50" x2="429.90" y2="117.50" stroke="#1a1a1a" stroke-width="0.9"/>
<text x="429.90" y="125.80" font-size="10.3" text-anchor="middle" fill="#111">40</text>
<line x1="446.30" y1="115.50" x2="446.30" y2="117.50" stroke="#1a1a1a" stroke-width="0.9"/>
<text x="446.30" y="125.80" font-size="10.3" text-anchor="middle" fill="#111">50</text>
<line x1="462.70" y1="115.50" x2="462.70" y2="117.50" stroke="#1a1a1a" stroke-width="0.9"/>
<text x="462.70" y="125.80" font-size="10.3" text-anchor="middle" fill="#111">60</text>
<line x1="479.10" y1="115.50" x2="479.10" y2="117.50" stroke="#1a1a1a" stroke-width="0.9"/>
<text x="479.10" y="125.80" font-size="10.3" text-anchor="middle" fill="#111">70</text>
<line x1="495.50" y1="115.50" x2="495.50" y2="117.50" stroke="#1a1a1a" stroke-width="0.9"/>
<text x="495.50" y="125.80" font-size="10.3" text-anchor="middle" fill="#111">80</text>
<text x="452.60" y="135.10" font-size="10.8" text-anchor="middle" fill="#111">GC content (%)</text>
<text x="389.90" y="69.70" font-size="10.8" text-anchor="middle" fill="#111" transform="rotate(-90 389.90 69.70)">Species Sampling Prob.</text>
<line x1="503.60" y1="54.30" x2="515.30" y2="54.30" stroke="#ff1f55" stroke-width="1.5"/>
<line x1="503.60" y1="63.40" x2="515.30" y2="63.40" stroke="#9a2ae6" stroke-width="1.5"/>
<line x1="503.60" y1="72.40" x2="515.30" y2="72.40" stroke="#12d0ee" stroke-width="1.5"/>
<text x="517.70" y="56.90" font-size="10.8" text-anchor="start" fill="#111">extreme</text>
<text x="517.70" y="66.10" font-size="10.8" text-anchor="start" fill="#111">medium</text>
<text x="517.70" y="75.30" font-size="10.8" text-anchor="start" fill="#111">uniform</text>
</svg></body></html>
